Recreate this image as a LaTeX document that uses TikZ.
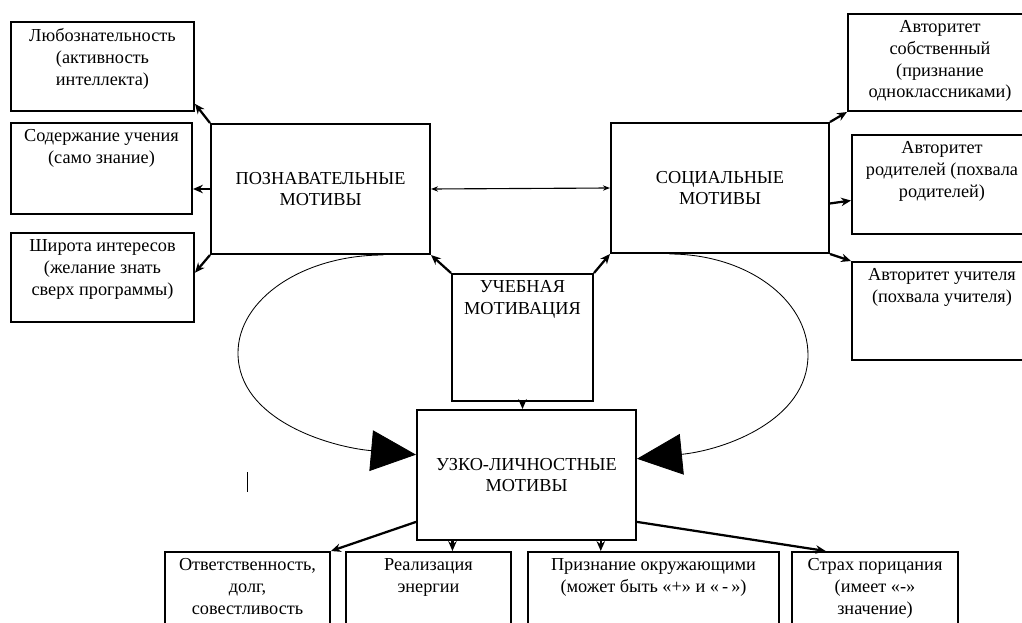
\documentclass[tikz,border=0pt]{standalone}
\usepackage{fontspec}
\setmainfont{Liberation Serif}
\usetikzlibrary{arrows.meta,calc}

\tikzset{
  mbox/.style={draw, line width=1.4pt, inner sep=0pt, align=center},
  sbox/.style={draw, line width=1.4pt, inner sep=0pt,
    label={[anchor=north,align=center,yshift=-2pt]north:#1}},
  arr/.style={line width=1.6pt, -{Stealth[length=7pt,width=6pt]}},
  loop/.style={line width=0.6pt, -{Triangle[length=32pt,width=29pt]}},
}

\begin{document}
\begin{tikzpicture}[x=0.025cm,y=-0.025cm,font=\fontsize{13}{15.4}\selectfont]
\clip (0,0) rectangle (1022,623);

% left column
\node[sbox={Любознательность\\(активность\\интеллекта)}, minimum width=4.575cm, minimum height=2.225cm] (lyub) at (102.5,66.5) {};
\node[sbox={Содержание учения\\(само знание)}, minimum width=4.525cm, minimum height=2.275cm] (soder) at (101.5,168.5) {};
\node[sbox={Широта интересов\\(желание знать\\сверх программы)}, minimum width=4.575cm, minimum height=2.225cm] (shir) at (102.5,277.5) {};

% main boxes
\node[mbox, minimum width=5.475cm, minimum height=3.25cm] (pozn) at (320.5,189) {ПОЗНАВАТЕЛЬНЫЕ\\МОТИВЫ};
\node[mbox, minimum width=5.45cm, minimum height=3.25cm] (soc) at (720,188) {СОЦИАЛЬНЫЕ\\МОТИВЫ};
\node[sbox={УЧЕБНАЯ\\МОТИВАЦИЯ}, minimum width=3.525cm, minimum height=3.175cm] (ucheb) at (522.5,337.5) {};
\node[mbox, minimum width=5.475cm, minimum height=3.25cm] (uzko) at (526.5,475) {УЗКО-ЛИЧНОСТНЫЕ\\МОТИВЫ};

% right column
\node[sbox={Авторитет\\собственный\\(признание\\одноклассниками)}, minimum width=4.6cm, minimum height=2.425cm] (avsob) at (940,62.5) {};
\node[sbox={Авторитет\\родителей (похвала\\родителей)}, minimum width=4.5cm, minimum height=2.475cm] (avrod) at (942,184.5) {};
\node[sbox={Авторитет учителя\\(похвала учителя)}, minimum width=4.5cm, minimum height=2.45cm] (avuch) at (942,311) {};

% bottom row
\node[sbox={Ответственность,\\долг,\\совестливость}, minimum width=4.125cm, minimum height=2.25cm] (otv) at (247.5,597) {};
\node[sbox={Реализация\\энергии}, minimum width=4.125cm, minimum height=2.25cm] (real) at (428.5,597) {};
\node[sbox={Признание окружающими\\(может быть «+» и «\,-\,»)}, minimum width=6.275cm, minimum height=2.25cm] (prizn) at (653.5,597) {};
\node[sbox={Страх порицания\\(имеет «-»\\значение)}, minimum width=4.15cm, minimum height=2.25cm] (strah) at (875,597) {};

% arrows
\draw[line width=0.8pt, {Stealth[length=5pt]}-{Stealth[length=5pt]}] (pozn.east) -- (soc.west);
\draw[arr] (pozn.north west) -- (lyub.-22);
\draw[arr] (pozn.west) -- (pozn.west -| soder.east);
\draw[arr] (pozn.south west) -- (shir.3);
\draw[arr] (soc.north east) -- (avsob.south west);
\draw[arr] (soc.-8) -- (avrod.-170);
\draw[arr] (soc.south east) -- (avuch.north west);
\draw[arr] (ucheb.north west) -- (pozn.south east);
\draw[arr] (ucheb.north east) -- (soc.south west);
\draw[arr] (ucheb.south) -- (ucheb.south |- uzko.north);
\draw[arr] (uzko.203) -- (otv.north east);
\draw[arr] ($(uzko.south west)!0.165!(uzko.south east)$) coordinate (u1) -- (u1 |- real.north);
\draw[arr] ($(uzko.south west)!0.836!(uzko.south east)$) coordinate (u2) -- (u2 |- prizn.north);
\draw[arr] (uzko.-23) -- (strah.137);

% loops
\draw[loop] ($(pozn.south west)!0.785!(pozn.south east)$) .. controls (303,255) and (238,299) .. (238,353)
  .. controls (238,420) and (330,447) .. ($(uzko.north west)!0.346!(uzko.south west)$);
\draw[loop] ($(soc.south west)!0.27!(soc.south east)$) .. controls (746,254) and (808,299) .. (808,355)
  .. controls (808,420) and (725,450) .. ($(uzko.north east)!0.377!(uzko.south east)$);

\draw[line width=0.6pt] (247,472) -- (247,492);
\end{tikzpicture}
\end{document}
